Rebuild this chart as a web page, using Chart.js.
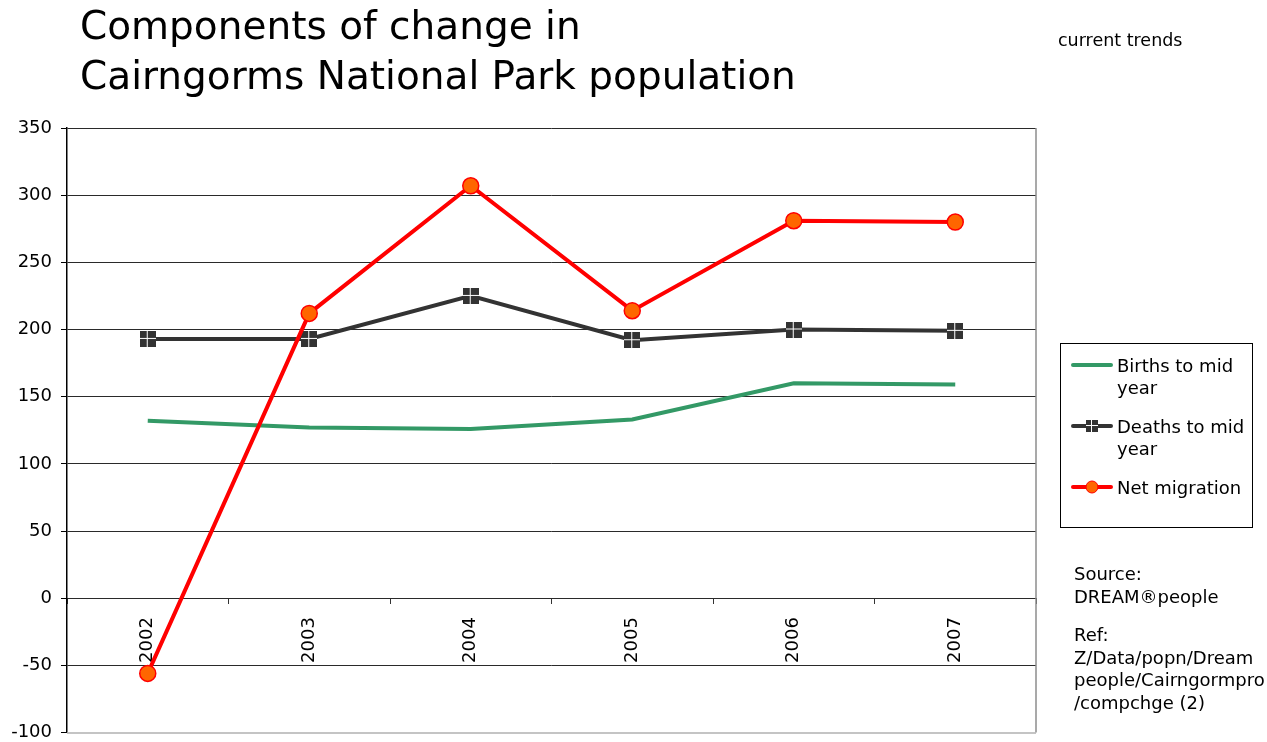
<!DOCTYPE html>
<html>
<head>
<meta charset="utf-8">
<script src="https://cdn.jsdelivr.net/npm/chart.js@4"></script>
<style>
  html, body { margin: 0; padding: 0; background: #fff; }
  #wrap { position: relative; width: 1267px; height: 742px; }
</style>
</head>
<body>
<div id="wrap"><canvas id="popChart"></canvas></div>
<script>
// population components, mid-year to mid-year
const years = ['2002', '2003', '2004', '2005', '2006', '2007'];
const births = [132, 127, 126, 133, 160, 159];
const deaths = [193, 193, 225, 192, 200, 199];
const netMigration = [-56, 212, 307, 214, 281, 280];
const yTicks = { min: -100, max: 350, step: 50 };

const titleLines = ['Components of change in', 'Cairngorms National Park population'];
const noteLines = ['Source:', 'DREAM\u00AEpeople', '', 'Ref:', 'Z/Data/popn/Dream', 'people/Cairngormpro', '/compchge (2)'];

const FONT = '"DejaVu Sans", Verdana, sans-serif';

// dark square split by a white cross (deaths marker)
function crossSquare(size) {
  const c = document.createElement('canvas');
  c.width = size; c.height = size;
  const g = c.getContext('2d');
  g.fillStyle = '#333333';
  g.fillRect(0, 0, size, size);
  g.fillStyle = '#ffffff';
  const mid = Math.floor(size / 2);
  g.fillRect(mid - 1, 0, 1, size);
  g.fillRect(0, mid - 1, size, 1);
  return c;
}
const deathMarker = crossSquare(16);
const deathMarkerSmall = crossSquare(12);

// title, side notes, frame and boxed legend
const decorations = {
  id: 'decorations',
  beforeDatasetsDraw(chart) {
    const { ctx, chartArea: a } = chart;
    ctx.save();
    ctx.strokeStyle = '#8c8c8c';
    ctx.lineWidth = 1.5;
    ctx.beginPath();
    ctx.moveTo(a.right, a.top);
    ctx.lineTo(a.right, a.bottom);
    ctx.stroke();
    ctx.strokeStyle = '#b0b0b0';
    ctx.beginPath();
    ctx.moveTo(a.left, a.bottom + 0.5);
    ctx.lineTo(a.right, a.bottom + 0.5);
    ctx.stroke();
    ctx.restore();
  },
  afterDraw(chart) {
    const ctx = chart.ctx;
    ctx.save();
    ctx.fillStyle = '#000';
    ctx.textBaseline = 'alphabetic';
    ctx.textAlign = 'left';

    ctx.font = '39px ' + FONT;
    ctx.fillText(titleLines[0], 80, 39);
    ctx.fillText(titleLines[1], 80, 89);

    ctx.font = '17.5px ' + FONT;
    ctx.fillText('current trends', 1058, 46);

    ctx.font = '18px ' + FONT;
    let ny = 580;
    noteLines.forEach(t => {
      if (t === '') { ny += 16; return; }
      ctx.fillText(t, 1074, ny);
      ny += 22.5;
    });

    // legend box
    const bx = 1060.5, by = 343.5, bw = 192, bh = 184;
    ctx.strokeStyle = '#000';
    ctx.lineWidth = 1;
    ctx.strokeRect(bx, by, bw, bh);

    ctx.font = '18px ' + FONT;
    const rows = [365, 426, 487];
    const maxW = 130;
    chart.data.datasets.forEach((ds, i) => {
      const y = rows[i];
      ctx.strokeStyle = ds.borderColor;
      ctx.lineWidth = 4;
      ctx.lineCap = 'round';
      ctx.beginPath();
      ctx.moveTo(1073, y);
      ctx.lineTo(1111, y);
      ctx.stroke();
      if (ds.pointStyle === 'circle') {
        ctx.beginPath();
        ctx.arc(1092, y, 6, 0, Math.PI * 2);
        ctx.fillStyle = ds.pointBackgroundColor;
        ctx.fill();
        ctx.lineWidth = 1;
        ctx.strokeStyle = ds.pointBorderColor;
        ctx.stroke();
      } else if (ds.pointStyle instanceof HTMLCanvasElement) {
        ctx.drawImage(deathMarkerSmall, 1086, y - 6);
      }
      // wrap label to the box width
      const words = ds.label.split(' ');
      const lines = [];
      let cur = '';
      words.forEach(w => {
        const test = cur ? cur + ' ' + w : w;
        if (ctx.measureText(test).width > maxW && cur) { lines.push(cur); cur = w; }
        else cur = test;
      });
      lines.push(cur);
      ctx.fillStyle = '#000';
      ctx.textBaseline = 'middle';
      lines.forEach((l, k) => ctx.fillText(l, 1117, y + 2 + k * 22));
    });
    ctx.restore();
  }
};

new Chart(document.getElementById('popChart'), {
  type: 'line',
  data: {
    labels: years,
    datasets: [
      {
        label: 'Births to mid year',
        data: births,
        borderColor: '#339966',
        backgroundColor: '#339966',
        borderWidth: 4,
        pointRadius: 0,
        pointStyle: false,
        order: 2
      },
      {
        label: 'Deaths to mid year',
        data: deaths,
        borderColor: '#333333',
        backgroundColor: '#333333',
        borderWidth: 4,
        pointStyle: deathMarker,
        order: 1
      },
      {
        label: 'Net migration',
        data: netMigration,
        borderColor: '#ff0000',
        backgroundColor: '#ff6600',
        borderWidth: 4,
        pointStyle: 'circle',
        pointRadius: 8,
        pointBackgroundColor: '#ff6600',
        pointBorderColor: '#ff0000',
        pointBorderWidth: 1.5,
        order: 0
      }
    ]
  },
  options: {
    responsive: true,
    maintainAspectRatio: false,
    animation: false,
    layout: { padding: { top: 128, right: 231, bottom: 9, left: 0 } },
    elements: { line: { tension: 0 } },
    plugins: { legend: { display: false }, tooltip: { enabled: false } },
    scales: {
      x: {
        type: 'category',
        offset: true,
        position: { y: 0 },
        afterFit: s => { s.height = 0; },
        grid: { offset: true, drawOnChartArea: false, drawTicks: true, tickLength: 6, color: '#333' },
        border: { display: false },
        ticks: { minRotation: 90, maxRotation: 90, padding: 13, color: '#000', font: { family: FONT, size: 18 } }
      },
      y: {
        min: yTicks.min,
        max: yTicks.max,
        afterFit: s => { s.width = 67; s.paddingTop = 0; s.paddingBottom = 0; },
        ticks: { stepSize: yTicks.step, padding: 9, color: '#000', font: { family: FONT, size: 18 } },
        grid: {
          color: c => (c.tick && c.tick.value === yTicks.min ? 'rgba(0,0,0,0)' : '#2a2a2a'),
          tickLength: 6,
          tickColor: '#000'
        },
        border: { display: true, color: '#000', width: 1.5 }
      }
    }
  },
  plugins: [decorations]
});
</script>
</body>
</html>
